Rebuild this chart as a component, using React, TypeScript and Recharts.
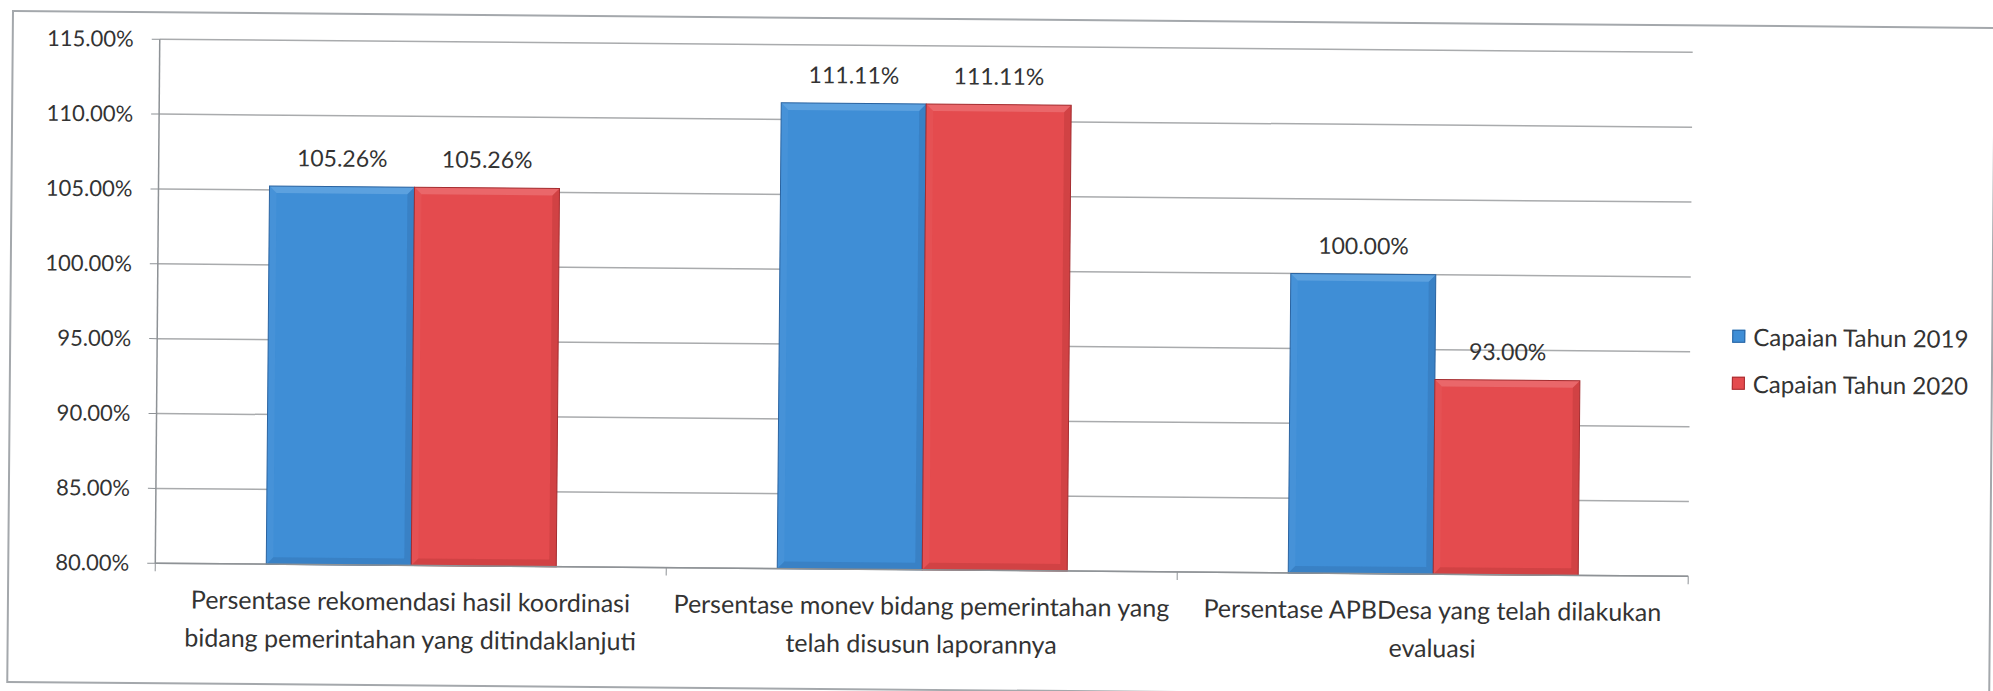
import React from "react";
import { BarChart, Bar, XAxis, YAxis, CartesianGrid, Legend, LabelList } from "recharts";

const categories = [
  "Persentase rekomendasi hasil koordinasi\nbidang pemerintahan yang ditindaklanjuti",
  "Persentase monev bidang pemerintahan yang\ntelah disusun laporannya",
  "Persentase APBDesa yang telah dilakukan\nevaluasi",
];
const seriesNames = ["Capaian Tahun 2019", "Capaian Tahun 2020"];
const capaian2019 = [105.26, 111.11, 100.0];
const capaian2020 = [105.26, 111.11, 93.0];
const yTicks = [80, 85, 90, 95, 100, 105, 110, 115];

const data = categories.map((name, i) => ({ name, v2019: capaian2019[i], v2020: capaian2020[i] }));

const W = 1993;
const H = 691;
const PLOT_LEFT = 160;
const PLOT_RIGHT = 1693;
const FONT = "Lato, 'Open Sans', sans-serif";
const TEXT = "#333333";
const AXIS = "#8e9296";
const BLUE = { fill: "#3f8ed6", light: "#7ab4e8", dark: "#2a63a0" };
const RED = { fill: "#e44b4e", light: "#f08486", dark: "#a42d30" };

const halfBand = (PLOT_RIGHT - PLOT_LEFT) / categories.length / 2;

// Excel-like bevelled bar
function BevelBar(props: any) {
  const { x, y, width: w, height: h, fill, light, dark } = props;
  if (!w || !h) return null;
  const b = Math.min(7, w / 4, h / 4);
  return (
    <g>
      <rect x={x} y={y} width={w} height={h} fill={fill} />
      <polygon points={`${x},${y} ${x + w},${y} ${x + w - b},${y + b} ${x + b},${y + b}`} fill={light} opacity={0.5} />
      <polygon points={`${x},${y} ${x + b},${y + b} ${x + b},${y + h - b} ${x},${y + h}`} fill={light} opacity={0.12} />
      <polygon points={`${x + w},${y} ${x + w},${y + h} ${x + w - b},${y + h - b} ${x + w - b},${y + b}`} fill={dark} opacity={0.3} />
      <polygon points={`${x},${y + h} ${x + w},${y + h} ${x + w - b},${y + h - b} ${x + b},${y + h - b}`} fill={dark} opacity={0.3} />
      <rect x={x} y={y} width={w} height={h} fill="none" stroke={dark} strokeWidth={1} />
    </g>
  );
}

function ValueLabel(props: any) {
  const { x, y, width, value } = props;
  return (
    <text x={x + width / 2} y={y - 20} textAnchor="middle" fontSize={23} fontFamily={FONT} fill={TEXT}>
      {Number(value).toFixed(2)}%
    </text>
  );
}

function CategoryTick(props: any) {
  const { x, y, payload, index } = props;
  const lines = String(payload.value).split("\n");
  return (
    <g>
      {index === 0 && <line x1={x - halfBand} x2={x - halfBand} y1={y - 8} y2={y} stroke={AXIS} />}
      <line x1={x + halfBand} x2={x + halfBand} y1={y - 8} y2={y} stroke={AXIS} />
      <text textAnchor="middle" fontSize={25} fontFamily={FONT} fill={TEXT}>
        {lines.map((ln, i) => (
          <tspan key={i} x={x} y={y + 37 + i * 38}>
            {ln}
          </tspan>
        ))}
      </text>
    </g>
  );
}

function PercentTick(props: any) {
  const { x, y, payload } = props;
  return (
    <text x={x} y={y} dy="0.35em" textAnchor="end" fontSize={22} fontFamily={FONT} fill={TEXT}>
      {Number(payload.value).toFixed(2)}%
    </text>
  );
}

function LegendBox() {
  const items = [
    { name: seriesNames[0], c: BLUE },
    { name: seriesNames[1], c: RED },
  ];
  return (
    <div style={{ fontFamily: FONT, fontSize: 24, color: TEXT }}>
      {items.map((it) => (
        <div key={it.name} style={{ height: 47, display: "flex", alignItems: "center", whiteSpace: "nowrap" }}>
          <span
            style={{
              width: 13,
              height: 13,
              marginRight: 8,
              background: it.c.fill,
              border: `1px solid ${it.c.dark}`,
              boxSizing: "border-box",
              display: "inline-block",
            }}
          />
          {it.name}
        </div>
      ))}
    </div>
  );
}

export default function App() {
  return (
    <div style={{ position: "absolute", left: 0, top: 0, width: W, height: H, overflow: "hidden", background: "#fff" }}>
      <div
        style={{
          position: "absolute",
          left: 0,
          top: 0,
          width: W,
          height: H,
          transform: "rotate(0.49deg)",
          transformOrigin: "12px 10px",
        }}
      >
        <div
          style={{
            position: "absolute",
            left: 12,
            top: 10,
            width: 1984,
            height: 673,
            border: "2px solid #a4a8ac",
            boxSizing: "border-box",
          }}
        />
        <BarChart
          width={W}
          height={H}
          data={data}
          margin={{ top: 38, right: W - PLOT_RIGHT, bottom: 29, left: 0 }}
          barGap={0}
          barSize={145}
        >
          <CartesianGrid vertical={false} stroke="#a9abad" strokeWidth={1.5} />
          <YAxis
            width={PLOT_LEFT}
            domain={[80, 115]}
            ticks={yTicks}
            interval={0}
            tickSize={8}
            tickMargin={18}
            tickLine={{ stroke: AXIS }}
            axisLine={{ stroke: AXIS, strokeWidth: 1.5 }}
            tick={<PercentTick />}
          />
          <XAxis
            dataKey="name"
            height={100}
            interval={0}
            tickSize={8}
            tickMargin={0}
            tickLine={false}
            axisLine={{ stroke: AXIS, strokeWidth: 1.5 }}
            tick={<CategoryTick />}
          />
          <Legend
            layout="horizontal"
            verticalAlign="middle"
            align="center"
            content={() => <LegendBox />}
            wrapperStyle={{ position: "absolute", left: 1735, top: 298, width: 250 }}
          />
          <Bar
            dataKey="v2019"
            name={seriesNames[0]}
            fill={BLUE.fill}
            isAnimationActive={false}
            shape={(p: any) => <BevelBar {...p} light={BLUE.light} dark={BLUE.dark} />}
          >
            <LabelList dataKey="v2019" content={<ValueLabel />} />
          </Bar>
          <Bar
            dataKey="v2020"
            name={seriesNames[1]}
            fill={RED.fill}
            isAnimationActive={false}
            shape={(p: any) => <BevelBar {...p} light={RED.light} dark={RED.dark} />}
          >
            <LabelList dataKey="v2020" content={<ValueLabel />} />
          </Bar>
        </BarChart>
      </div>
    </div>
  );
}
